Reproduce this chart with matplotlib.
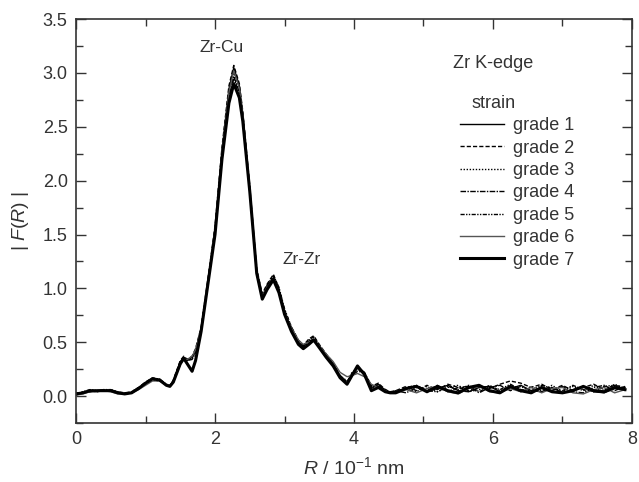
import matplotlib
matplotlib.use("Agg")
import matplotlib.pyplot as plt
from matplotlib.ticker import MultipleLocator, FormatStrFormatter

plt.rcParams['font.family'] = ['Liberation Sans', 'DejaVu Sans']
plt.rcParams['mathtext.fontset'] = 'custom'
plt.rcParams['mathtext.rm'] = 'Liberation Sans'
plt.rcParams['mathtext.it'] = 'Liberation Sans:italic'

# R grid (10^-1 nm)
R = [0.0, 0.1, 0.2, 0.3, 0.4, 0.5, 0.6, 0.7, 0.8, 0.9, 1.0, 1.1, 1.2, 1.3,
     1.35, 1.4, 1.5, 1.55, 1.6, 1.67, 1.72, 1.8, 1.9, 2.0, 2.1, 2.2, 2.27,
     2.35, 2.4, 2.5, 2.6, 2.68, 2.75, 2.84, 2.92, 3.0, 3.1, 3.2, 3.27, 3.35,
     3.42, 3.5, 3.6, 3.7, 3.8, 3.9, 3.97, 4.05, 4.15, 4.25, 4.35, 4.45, 4.52,
     4.6, 4.75, 4.9, 5.05, 5.2, 5.35, 5.5, 5.65, 5.8, 5.95, 6.1, 6.25, 6.4,
     6.55, 6.7, 6.85, 7.0, 7.15, 7.3, 7.45, 7.6, 7.75, 7.9]

grade1 = [0.02, 0.03, 0.05, 0.05, 0.055, 0.05, 0.03, 0.02, 0.03, 0.07, 0.12, 0.16, 0.15, 0.10,
          0.09, 0.14, 0.32, 0.36, 0.33, 0.36, 0.42, 0.62, 1.08, 1.55, 2.28, 2.85, 3.05,
          2.88, 2.62, 1.92, 1.15, 0.93, 1.02, 1.10, 0.98, 0.78, 0.62, 0.50, 0.46, 0.51,
          0.53, 0.46, 0.38, 0.30, 0.18, 0.12, 0.20, 0.27, 0.22, 0.07, 0.11, 0.05, 0.03,
          0.04, 0.07, 0.09, 0.04, 0.07, 0.10, 0.05, 0.04, 0.08, 0.09, 0.04, 0.07, 0.10,
          0.05, 0.04, 0.08, 0.03, 0.06, 0.09, 0.04, 0.03, 0.07, 0.08]
grade2 = [0.01, 0.03, 0.04, 0.05, 0.06, 0.05, 0.03, 0.02, 0.04, 0.08, 0.13, 0.17, 0.15, 0.10,
          0.09, 0.15, 0.33, 0.37, 0.34, 0.37, 0.44, 0.64, 1.10, 1.58, 2.31, 2.88, 3.07,
          2.90, 2.64, 1.95, 1.18, 0.95, 1.04, 1.13, 1.00, 0.80, 0.64, 0.52, 0.47, 0.53,
          0.56, 0.48, 0.39, 0.31, 0.19, 0.13, 0.21, 0.26, 0.20, 0.09, 0.12, 0.06, 0.04,
          0.05, 0.09, 0.05, 0.10, 0.06, 0.11, 0.08, 0.05, 0.10, 0.07, 0.11, 0.14, 0.12,
          0.08, 0.11, 0.06, 0.10, 0.05, 0.08, 0.11, 0.06, 0.10, 0.08]
grade3 = [0.02, 0.04, 0.05, 0.04, 0.05, 0.06, 0.04, 0.02, 0.03, 0.07, 0.11, 0.15, 0.14, 0.10,
          0.10, 0.14, 0.31, 0.35, 0.33, 0.35, 0.41, 0.61, 1.06, 1.53, 2.25, 2.80, 3.00,
          2.84, 2.60, 1.90, 1.14, 0.92, 1.01, 1.11, 0.99, 0.79, 0.63, 0.49, 0.45, 0.50,
          0.52, 0.47, 0.37, 0.29, 0.17, 0.13, 0.22, 0.25, 0.21, 0.08, 0.10, 0.05, 0.04,
          0.03, 0.08, 0.04, 0.09, 0.04, 0.08, 0.10, 0.04, 0.06, 0.10, 0.05, 0.09, 0.04,
          0.09, 0.05, 0.10, 0.04, 0.09, 0.05, 0.10, 0.05, 0.11, 0.07]
grade4 = [0.03, 0.03, 0.04, 0.05, 0.05, 0.05, 0.03, 0.03, 0.04, 0.08, 0.12, 0.16, 0.16, 0.11,
          0.10, 0.13, 0.30, 0.35, 0.33, 0.34, 0.40, 0.60, 1.05, 1.52, 2.24, 2.78, 2.97,
          2.82, 2.58, 1.90, 1.13, 0.91, 1.00, 1.09, 0.97, 0.77, 0.61, 0.49, 0.44, 0.49,
          0.52, 0.46, 0.37, 0.30, 0.19, 0.14, 0.19, 0.23, 0.22, 0.10, 0.09, 0.06, 0.03,
          0.05, 0.03, 0.08, 0.05, 0.10, 0.04, 0.08, 0.09, 0.03, 0.08, 0.10, 0.05, 0.09,
          0.04, 0.08, 0.05, 0.09, 0.04, 0.03, 0.08, 0.10, 0.05, 0.09]
grade5 = [0.02, 0.04, 0.06, 0.05, 0.06, 0.06, 0.04, 0.03, 0.03, 0.07, 0.12, 0.17, 0.15, 0.10,
          0.09, 0.14, 0.31, 0.36, 0.34, 0.36, 0.43, 0.63, 1.07, 1.54, 2.23, 2.76, 2.95,
          2.81, 2.57, 1.92, 1.16, 0.94, 1.03, 1.12, 1.01, 0.81, 0.64, 0.51, 0.47, 0.52,
          0.55, 0.47, 0.38, 0.30, 0.18, 0.12, 0.20, 0.26, 0.21, 0.08, 0.11, 0.05, 0.04,
          0.04, 0.08, 0.10, 0.05, 0.04, 0.09, 0.06, 0.10, 0.04, 0.09, 0.06, 0.11, 0.06,
          0.05, 0.10, 0.07, 0.05, 0.10, 0.06, 0.04, 0.09, 0.10, 0.05]
grade6 = [0.01, 0.02, 0.04, 0.04, 0.05, 0.04, 0.02, 0.02, 0.03, 0.06, 0.10, 0.14, 0.14, 0.11,
          0.10, 0.13, 0.29, 0.34, 0.34, 0.37, 0.43, 0.62, 1.07, 1.55, 2.26, 2.82, 3.02,
          2.86, 2.61, 1.91, 1.15, 0.93, 1.01, 1.08, 0.97, 0.78, 0.63, 0.52, 0.48, 0.50,
          0.51, 0.47, 0.39, 0.32, 0.22, 0.18, 0.19, 0.21, 0.18, 0.11, 0.08, 0.05, 0.03,
          0.03, 0.06, 0.03, 0.07, 0.09, 0.04, 0.02, 0.07, 0.09, 0.04, 0.03, 0.07, 0.04,
          0.08, 0.03, 0.07, 0.08, 0.03, 0.02, 0.06, 0.08, 0.03, 0.06]
grade7 = [0.02, 0.03, 0.05, 0.05, 0.05, 0.05, 0.03, 0.02, 0.03, 0.07, 0.12, 0.16, 0.15, 0.10,
          0.09, 0.13, 0.30, 0.35, 0.30, 0.23, 0.33, 0.60, 1.05, 1.50, 2.20, 2.72, 2.90,
          2.77, 2.55, 1.90, 1.14, 0.90, 0.99, 1.08, 0.96, 0.76, 0.60, 0.48, 0.44, 0.48,
          0.52, 0.45, 0.36, 0.28, 0.17, 0.11, 0.19, 0.28, 0.20, 0.05, 0.08, 0.04, 0.03,
          0.03, 0.07, 0.09, 0.04, 0.09, 0.05, 0.03, 0.08, 0.10, 0.05, 0.03, 0.09, 0.05,
          0.03, 0.08, 0.04, 0.03, 0.05, 0.09, 0.05, 0.04, 0.08, 0.06]

labels = ['grade 1', 'grade 2', 'grade 3', 'grade 4', 'grade 5', 'grade 6', 'grade 7']
series = [grade1, grade2, grade3, grade4, grade5, grade6, grade7]
styles = [
    dict(color='black', lw=1.0, ls='-'),
    dict(color='black', lw=1.0, ls=(0, (3, 1.5))),
    dict(color='black', lw=1.0, ls=(0, (1, 1.2))),
    dict(color='black', lw=1.0, ls=(0, (4, 1, 1, 1))),
    dict(color='black', lw=1.0, ls=(0, (3, 1, 1, 1, 1, 1))),
    dict(color='#555555', lw=1.0, ls='-'),
    dict(color='black', lw=2.2, ls='-'),
]

fig = plt.figure(figsize=(6.39, 4.82), dpi=100)
ax = fig.add_axes([0.119, 0.1224, 0.870, 0.838])

for y, lab, st in zip(series, labels, styles):
    ax.plot(R, y, label=lab, **st)

ax.set_xlim(0, 8)
ax.set_ylim(-0.25, 3.5)
ax.xaxis.set_major_locator(MultipleLocator(2))
ax.xaxis.set_minor_locator(MultipleLocator(1))
ax.yaxis.set_major_locator(MultipleLocator(0.5))
ax.yaxis.set_minor_locator(MultipleLocator(0.25))
ax.yaxis.set_major_formatter(FormatStrFormatter('%.1f'))
ax.tick_params(which='both', direction='in', top=True, right=True,
               color='#333333', width=1.0, labelsize=13, labelcolor='#333333')
ax.tick_params(which='major', length=7, pad=6)
ax.tick_params(which='minor', length=5)
for s in ax.spines.values():
    s.set_color('#333333')
    s.set_linewidth(1.2)

ax.set_xlabel(r'$R$ / 10$^{-1}$ nm', fontsize=14, color='#333333', labelpad=6)
ax.set_ylabel(r'| $F$($R$) |', fontsize=14, color='#333333', labelpad=8)

ax.text(2.1, 3.24, 'Zr-Cu', fontsize=12.5, color='#333333', ha='center', va='center')
ax.text(3.24, 1.27, 'Zr-Zr', fontsize=12.5, color='#333333', ha='center', va='center')
ax.text(0.678, 0.891, 'Zr K-edge', transform=ax.transAxes, fontsize=13,
        color='#333333', ha='left', va='center')
ax.text(0.712, 0.792, 'strain', transform=ax.transAxes, fontsize=13,
        color='#333333', ha='left', va='center')

leg = ax.legend(loc='upper left', bbox_to_anchor=(0.691, 0.757), frameon=False,
                fontsize=13, handlelength=2.4, handletextpad=0.55,
                labelspacing=0.3, borderpad=0, borderaxespad=0)
for t in leg.get_texts():
    t.set_color('#333333')

fig.savefig('out.png', dpi=100)
